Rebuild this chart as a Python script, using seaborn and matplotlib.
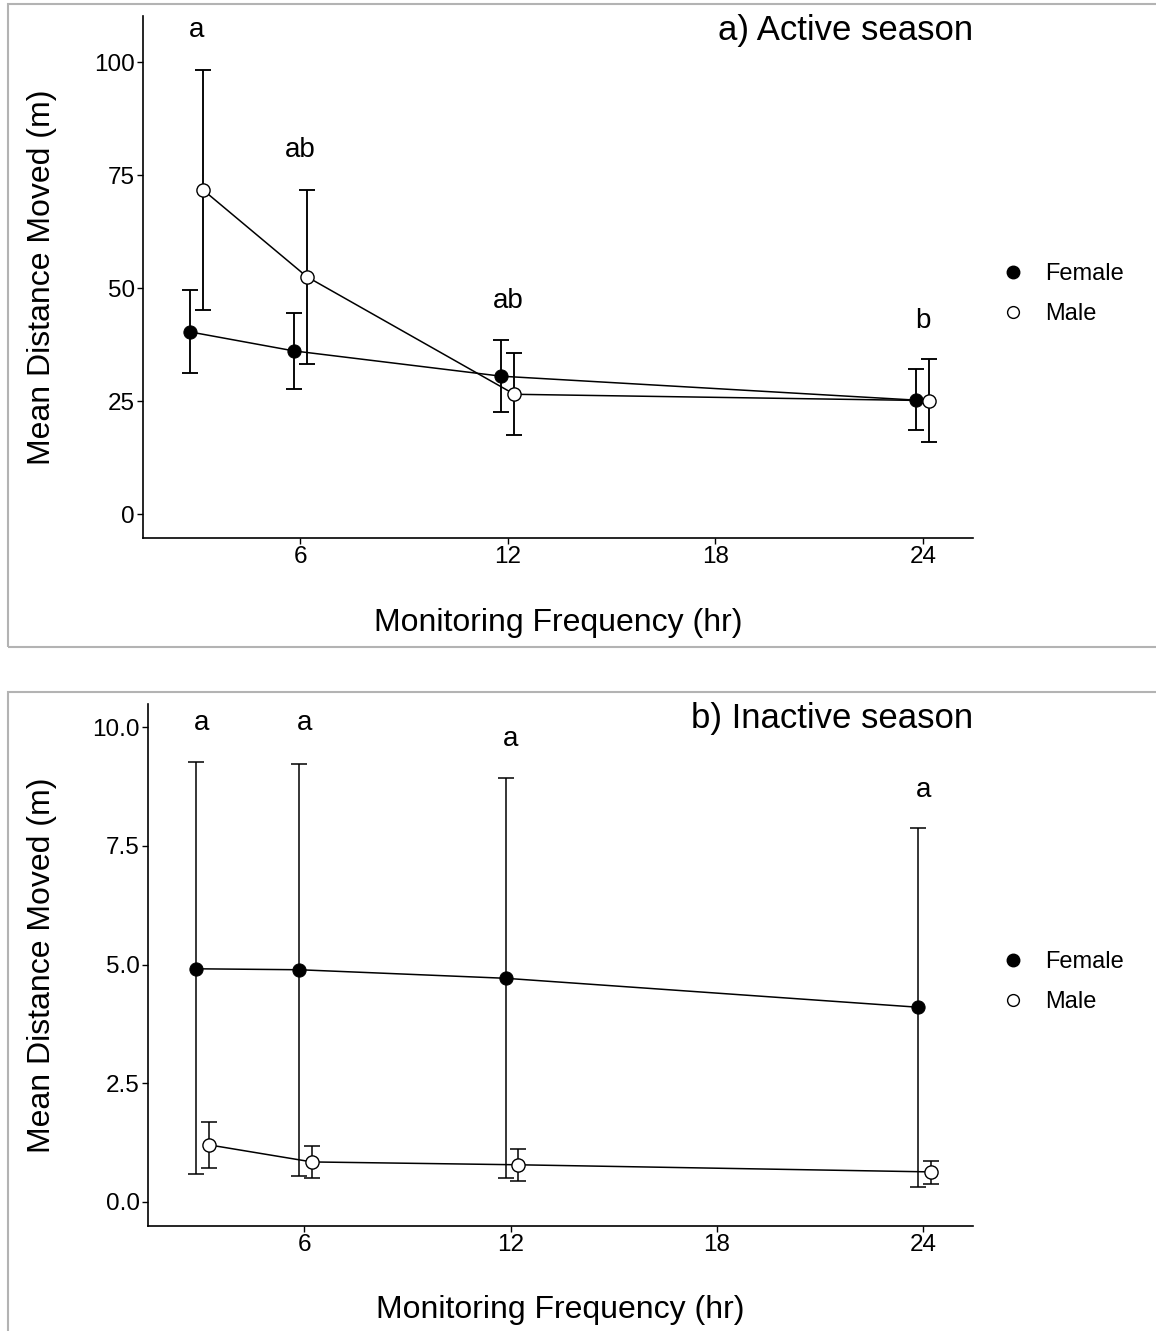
import matplotlib
matplotlib.use("Agg")
import matplotlib.pyplot as plt
from matplotlib.lines import Line2D
from matplotlib.patches import Rectangle
import seaborn as sns
import pandas as pd

# monitoring frequency (hr)
freq = [3, 6, 12, 24]

# a) active season
active_female_mean = [40.3, 36.1, 30.5, 25.2]
active_female_lo = [31.1, 27.7, 22.5, 18.5]
active_female_hi = [49.6, 44.4, 38.4, 32.1]
active_male_mean = [71.7, 52.5, 26.5, 25.1]
active_male_lo = [45.1, 33.2, 17.4, 15.9]
active_male_hi = [98.2, 71.8, 35.7, 34.3]
active_letters = ["a", "ab", "ab", "b"]
active_letters_y = [105.6, 79.0, 45.5, 41.2]

# b) inactive season
inactive_female_mean = [4.91, 4.89, 4.71, 4.10]
inactive_female_lo = [0.58, 0.55, 0.50, 0.32]
inactive_female_hi = [9.26, 9.23, 8.93, 7.88]
inactive_male_mean = [1.20, 0.84, 0.78, 0.63]
inactive_male_lo = [0.72, 0.51, 0.44, 0.38]
inactive_male_hi = [1.69, 1.18, 1.11, 0.87]
inactive_letters = ["a", "a", "a", "a"]
inactive_letters_y = [9.95, 9.95, 9.61, 8.54]

x_ticks = [6, 12, 18, 24]
active_yticks = [0, 25, 50, 75, 100]
active_yticklabels = ["0", "25", "50", "75", "100"]
inactive_yticks = [0, 2.5, 5, 7.5, 10]
inactive_yticklabels = ["0.0", "2.5", "5.0", "7.5", "10.0"]

sns.set_style("white")
plt.rcParams["font.family"] = ["Liberation Sans", "DejaVu Sans"]
plt.rcParams["text.color"] = "black"
plt.rcParams["axes.labelcolor"] = "black"

fig = plt.figure(figsize=(11.56, 13.31), dpi=100)
W, H = 1156, 1331


def fig_axes(left, right, top, bottom):
    return fig.add_axes([left / W, 1 - bottom / H, (right - left) / W, (bottom - top) / H])


def draw_panel(ax, fm, flo, fhi, mm, mlo, mhi, dodge_f, dodge_m, letters, letters_y,
               title, ylim, yticks, yticklabels, ebar_lw, legend_y, ylab_x, xlab_y):
    xf = [f + dodge_f for f in freq]
    xm = [f + dodge_m for f in freq]

    ax.errorbar(xf, fm, yerr=[[m - l for m, l in zip(fm, flo)], [h - m for m, h in zip(fm, fhi)]],
                fmt="none", ecolor="black", elinewidth=ebar_lw, capsize=5.8, capthick=ebar_lw, zorder=2)
    ax.errorbar(xm, mm, yerr=[[m - l for m, l in zip(mm, mlo)], [h - m for m, h in zip(mm, mhi)]],
                fmt="none", ecolor="black", elinewidth=ebar_lw, capsize=5.8, capthick=ebar_lw, zorder=2)

    df_f = pd.DataFrame({"x": xf, "mean": fm})
    df_m = pd.DataFrame({"x": xm, "mean": mm})
    sns.lineplot(data=df_f, x="x", y="mean", ax=ax, color="black", marker="o",
                 markersize=9.5, markerfacecolor="black", markeredgecolor="black",
                 linewidth=1.1, estimator=None, sort=False, zorder=3)
    sns.lineplot(data=df_m, x="x", y="mean", ax=ax, color="black", marker="o",
                 markersize=9.5, markerfacecolor="white", markeredgecolor="black",
                 markeredgewidth=1.0, linewidth=1.1, estimator=None, sort=False, zorder=3)

    for f, lab, ly in zip(freq, letters, letters_y):
        ax.text(f, ly, lab, ha="center", va="baseline", fontsize=20, color="black")

    ax.text(1.0, 0.954, title, transform=ax.transAxes, ha="right", va="baseline",
            fontsize=25, color="black")

    ax.set_xlim(1.45, 25.45)
    ax.set_ylim(*ylim)
    ax.set_xticks(x_ticks)
    ax.set_xticklabels([str(t) for t in x_ticks])
    ax.set_yticks(yticks)
    ax.set_yticklabels(yticklabels)
    ax.tick_params(axis="both", direction="out", length=4, width=1.0, labelsize=17.5,
                   pad=2, colors="black", left=True, bottom=True)
    sns.despine(ax=ax)
    for s in ["left", "bottom"]:
        ax.spines[s].set_color("black")
        ax.spines[s].set_linewidth(1.2)

    ax.set_xlabel("Monitoring Frequency (hr)", fontsize=23, color="black")
    ax.set_ylabel("Mean Distance Moved (m)", fontsize=23, color="black")
    ax.xaxis.set_label_coords(0.5, xlab_y)
    ax.yaxis.set_label_coords(ylab_x, 0.5)

    handles = [
        Line2D([], [], marker="o", ls="none", mfc="black", mec="black", ms=9),
        Line2D([], [], marker="o", ls="none", mfc="white", mec="black", ms=8.5, mew=1.0),
    ]
    leg = ax.legend(handles, ["Female", "Male"], loc="center left",
                    bbox_to_anchor=(1001 / W, 1 - legend_y / H), bbox_transform=fig.transFigure,
                    frameon=False, fontsize=17, handlelength=1.0, handletextpad=0.85,
                    labelspacing=0.75, borderpad=0, borderaxespad=0)
    for t in leg.get_texts():
        t.set_color("black")


ax_a = fig_axes(143, 973, 16, 538)
draw_panel(ax_a, active_female_mean, active_female_lo, active_female_hi,
           active_male_mean, active_male_lo, active_male_hi, -0.19, 0.19,
           active_letters, active_letters_y, "a) Active season", (-5.3, 110.2),
           active_yticks, active_yticklabels, 1.35, 294, -0.104, -0.134)

ax_b = fig_axes(148, 973, 704, 1226)
draw_panel(ax_b, inactive_female_mean, inactive_female_lo, inactive_female_hi,
           inactive_male_mean, inactive_male_lo, inactive_male_hi, -0.15, 0.22,
           inactive_letters, inactive_letters_y, "b) Inactive season", (-0.51, 10.49),
           inactive_yticks, inactive_yticklabels, 1.1, 982, -0.110, -0.133)

# grey panel borders
fig.patches.append(Rectangle((8 / W, 1 - 647 / H), 1.0, 643 / H, transform=fig.transFigure,
                             fill=False, edgecolor="#b3b3b3", linewidth=1.5))
fig.patches.append(Rectangle((8 / W, -0.05), 1.0, 0.05 + 1 - 692 / H, transform=fig.transFigure,
                             fill=False, edgecolor="#b3b3b3", linewidth=1.5))

fig.savefig("out.png", dpi=100)
